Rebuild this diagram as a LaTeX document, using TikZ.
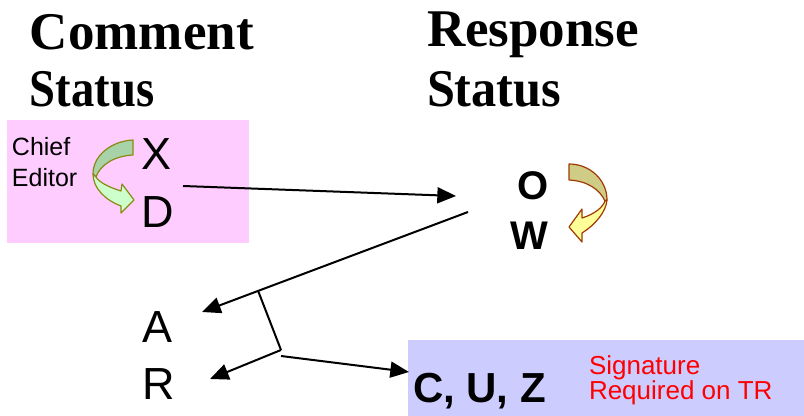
\documentclass[tikz,border=0pt]{standalone}
\usepackage{fontspec}
\setmainfont{Liberation Sans}
\newfontfamily\headfont{Liberation Serif}
\usetikzlibrary{arrows.meta,calc}
\definecolor{pinkbg}{HTML}{FFCCFF}
\definecolor{bluebg}{HTML}{CCCCFF}
\definecolor{greendark}{HTML}{A8D2A8}
\definecolor{greenlight}{HTML}{CCFFCC}
\definecolor{greenline}{HTML}{8A8A10}
\definecolor{yellowdark}{HTML}{CFCC85}
\definecolor{yellowlight}{HTML}{FFFF99}
\definecolor{orangeline}{HTML}{A03A00}
\definecolor{sigred}{HTML}{FF0000}
\begin{document}
\begin{tikzpicture}[x=0.75pt,y=-0.75pt,
  every node/.style={inner sep=0pt,outer sep=0pt},
  head/.style={font=\headfont\bfseries\fontsize{39.75}{44}\selectfont},
  bigletter/.style={font=\fontsize{33.75}{38}\selectfont},
  boldletter/.style={font=\bfseries\fontsize{30}{34}\selectfont},
  note/.style={font=\fontsize{18.75}{23.25}\selectfont,align=left},
  arr/.style={line width=1.5pt,-{Triangle[length=14pt,width=12pt]}},
  plainline/.style={line width=1.5pt}
]
\useasboundingbox (0,0) rectangle (804,416);
% background boxes
\fill[pinkbg] (7,120) rectangle (249,243);
\fill[bluebg] (408,340) rectangle (804,416);
% headings
\node[head,anchor=base west] (h1) at (30,50) {Comment};
\node[head,anchor=base west] (h2) at (30,107) {\scalebox{0.88}[1]{Status}};
\node[head,anchor=base west] (h3) at (427,47) {Response};
\node[head,anchor=base west] (h4) at (427,107) {\scalebox{0.95}[1]{Status}};
% comment status letters
\node[note,anchor=base west] (chief) at (12,187) {Chief\\Editor};
\node[bigletter,anchor=base] (x) at (157,170) {X};
\node[bigletter,anchor=base] (d) at (158,228) {D};
\node[bigletter,anchor=base] (a) at (157.5,343) {A};
\node[bigletter,anchor=base] (r) at (159,400) {R};
% response status letters
\node[boldletter,anchor=base] (o) at (533,200) {O};
\node[boldletter,anchor=base] (w) at (529,250) {W};
\node[anchor=base west,font=\bfseries\fontsize{31.5}{36}\selectfont] (cuz) at (413,403) {C, U, Z};
\node[note,anchor=base west,text=sigred,font=\fontsize{19.5}{19}\selectfont] (sig) at (589,400) {Signature\\Required on TR};
% green curved arrow (X -> D)
\filldraw[fill=greendark,draw=greenline,line width=0.9pt,line join=round]
  (133,140) .. controls (112,141) and (93,155) .. (93,174)
  -- (96,177) .. controls (100,165) and (114,156) .. (133,155) -- cycle;
\filldraw[fill=greenlight,draw=greenline,line width=0.9pt,line join=round]
  (93,174) .. controls (93,188) and (105,200) .. (121,206)
  -- (121,213) -- (134,200) -- (122,184) -- (121,191)
  .. controls (108,187) and (99,182) .. (96,177) -- cycle;
% yellow curved arrow (O -> W)
\filldraw[fill=yellowdark,draw=orangeline,line width=0.9pt,line join=round]
  (569,164) .. controls (590,164) and (607,180) .. (607,200)
  -- (605,201) .. controls (600,190) and (588,181) .. (569,180) -- cycle;
\filldraw[fill=yellowlight,draw=orangeline,line width=0.9pt,line join=round]
  (607,200) .. controls (606,212) and (595,225) .. (582,233)
  -- (582,242) -- (569,227) -- (582,209) -- (582,218)
  .. controls (595,214) and (603,207) .. (605,201) -- cycle;
% connectors
\coordinate (dout) at (183,186);
\coordinate (oin) at (456,196);
\coordinate (wout) at (468,212);
\coordinate (ain) at (202,312);
\coordinate (branch) at ($(wout)!0.789!(ain)$);
\coordinate (corner) at (281,350);
\coordinate (corner2) at (281,356);
\coordinate (rin) at (210,379);
\coordinate (cin) at (409,372);
\draw[arr] (dout) -- (oin);
\draw[arr] (wout) -- (ain);
\draw[plainline] (branch) -- (corner);
\draw[arr] (corner) -- (rin);
\draw[arr] (corner2) -- (cin);
\end{tikzpicture}
\end{document}
